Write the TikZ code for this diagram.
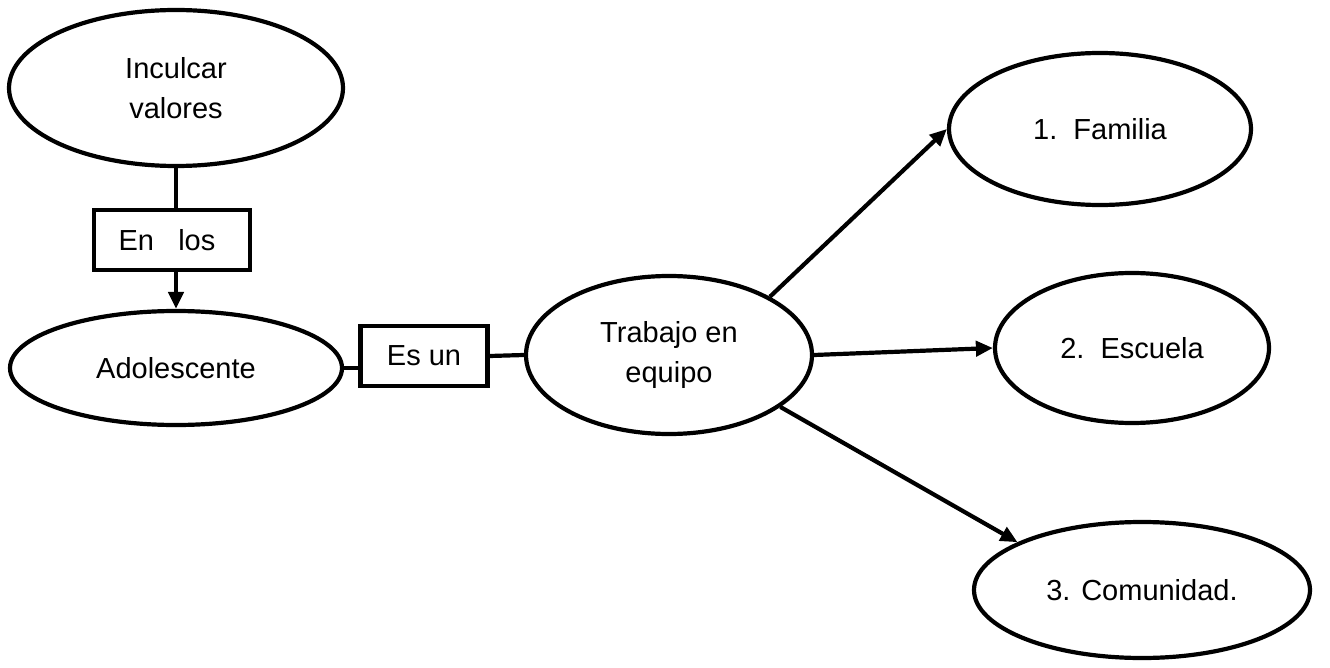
\documentclass[tikz,border=0pt]{standalone}
\usepackage{fontspec}
\setmainfont{Liberation Sans}
\usetikzlibrary{shapes.geometric,arrows.meta}
\begin{document}
\begin{tikzpicture}[x=1pt,y=-1pt,
                    font=\fontsize{29}{40}\selectfont,
                    idea/.style={draw, ellipse, line width=4.2pt, inner sep=0pt, align=center},
                    link/.style={draw, rectangle, line width=4.2pt, inner sep=0pt, minimum width=#1, minimum height=60pt},
                    wire/.style={line width=4.2pt},
                    >={Triangle[length=17pt,width=15pt]}]
                    \useasboundingbox (0,0) rectangle (1330,668);
                    \node [idea, minimum width=334pt, minimum height=156pt] (inculcar) at (176,88) {Inculcar\\valores};
                    \node [link=156pt] (enlos) at (172,240) {\hspace*{-10pt}En \ \ los};
                    \node [idea, minimum width=332pt, minimum height=114pt] (adol) at (176,368) {Adolescente};
                    \node [link=127pt] (esun) at (424,356) {Es un};
                    \node [idea, minimum width=286pt, minimum height=158pt] (trabajo) at (669,355) {Trabajo en\\equipo};
                    \node [idea, minimum width=302pt, minimum height=152pt] (familia) at (1100,129) {1.\ \ Familia};
                    \node [idea, minimum width=274pt, minimum height=150pt] (escuela) at (1132,348) {2.\ \ Escuela};
                    \node [idea, minimum width=336pt, minimum height=136pt] (comunidad) at (1142,590) {3. Comunidad.};
                    \draw [wire] (inculcar.south) -- (enlos.north -| inculcar.south);
                    \draw [wire,->] (enlos.south -| adol.north) -- (adol.north);
                    \draw [wire] (adol.east) -- (adol.east -| esun.west);
                    \draw [wire] (esun.east) -- (trabajo.west);
                    \draw [wire,->] (trabajo.30) -- (familia.west);
                    \draw [wire,->] (trabajo.east) -- (escuela.west);
                    \draw [wire,->] (trabajo.-25) -- (comunidad.159);
\end{tikzpicture}
\end{document}
